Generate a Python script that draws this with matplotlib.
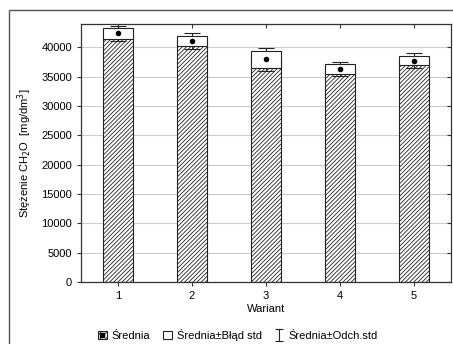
import numpy as np
import matplotlib
matplotlib.use('Agg')
import matplotlib.pyplot as plt
from matplotlib.patches import Rectangle, Patch
from matplotlib.lines import Line2D
from matplotlib.legend_handler import HandlerTuple

plt.rcParams['font.family'] = ['Liberation Sans', 'DejaVu Sans']
plt.rcParams['hatch.linewidth'] = 0.6
plt.rcParams['hatch.color'] = '#333333'

warianty = [1, 2, 3, 4, 5]
srednia = [42400, 41080, 37950, 36250, 37760]
blad_std = [880, 910, 1420, 855, 825]
odch_std = [1280, 1310, 1990, 1195, 1225]
yticks = [0, 5000, 10000, 15000, 20000, 25000, 30000, 35000, 40000]

fig = plt.figure(figsize=(4.53, 3.44), dpi=100)
ax = fig.add_axes([81 / 453, 1 - 282 / 344, 370 / 453, 258 / 344])

# outer frame of the figure
fig.patches.append(Rectangle((9 / 453, -0.2), 1.2, 1.2 - 10 / 344,
                             transform=fig.transFigure, fill=False,
                             edgecolor='#555555', linewidth=1.0))

w = 0.4
x = np.array(warianty)
ax.bar(x, srednia, width=w, color='white', edgecolor='#222222', hatch='/' * 8,
       linewidth=0.8, zorder=2)
ax.errorbar(x, srednia, yerr=odch_std, fmt='none', ecolor='#222222',
            elinewidth=0.8, capsize=6, capthick=0.8, zorder=3)
for xi, m, se in zip(x, srednia, blad_std):
    ax.add_patch(Rectangle((xi - w / 2, m - se), w, 2 * se, facecolor='white',
                           edgecolor='#222222', linewidth=0.8, zorder=4))
ax.plot(x, srednia, 'o', color='black', markersize=3, zorder=5)

# off-screen errorbar only used as legend handle
h3 = ax.errorbar([-10], [0], yerr=[1], fmt='none', ecolor='#222222',
                 elinewidth=0.8, capsize=3, capthick=0.8)

ax.set_xlim(0.5, 5.5)
ax.set_ylim(0, 44000)
ax.set_xticks(warianty)
ax.set_yticks(yticks)
ax.yaxis.grid(True, color='#cccccc', linewidth=0.8)
ax.set_axisbelow(True)
ax.tick_params(axis='both', labelsize=8, length=3, width=0.8, color='#333333')
ax.tick_params(axis='both', which='both', top=True, right=True)
for spine in ax.spines.values():
    spine.set_color('#333333')
    spine.set_linewidth(0.9)
# inward ticks on top and right
for t in ax.xaxis.get_major_ticks():
    t.tick2line.set_marker(3)
for t in ax.yaxis.get_major_ticks():
    t.tick2line.set_marker(0)

ax.set_xlabel('Wariant', fontsize=8, labelpad=2)
ax.set_ylabel('Stężenie CH$_2$O  [mg/dm$^3$]', fontsize=8, labelpad=5)

h1 = (Patch(facecolor='white', edgecolor='#222222', hatch='/' * 6, linewidth=0.8),
      Line2D([], [], marker='s', color='black', linestyle='none', markersize=3))
h2 = Patch(facecolor='white', edgecolor='#222222', linewidth=0.8)
fig.legend([h1, h2, h3], ['Średnia', 'Średnia±Błąd std', 'Średnia±Odch.std'],
           handler_map={tuple: HandlerTuple(ndivide=1)},
           loc='center', bbox_to_anchor=(0.525, 1 - 335 / 344), ncol=3,
           frameon=False, fontsize=8, handlelength=0.8, handleheight=0.8,
           handletextpad=0.4, columnspacing=1.2, borderaxespad=0)

fig.savefig('out.png', dpi=100)
